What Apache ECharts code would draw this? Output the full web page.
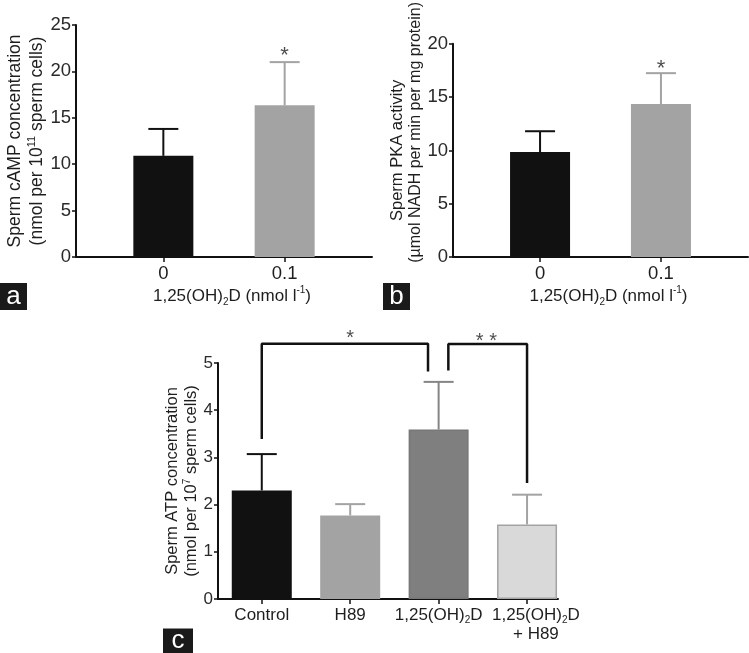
<!DOCTYPE html>
<html><head><meta charset="utf-8">
<script src="https://cdn.jsdelivr.net/npm/echarts@6/dist/echarts.min.js"></script>
<style>html,body{margin:0;padding:0;background:#fff}#c{width:749px;height:653px}</style>
</head><body><div id="c"></div>
<script>
// ---- Panel a ----
const aCategories = ['0', '0.1'];
const aMeans = [10.9, 16.35];
const aErrors = [2.9, 4.65];
const aYTicks = [0, 25, 5];
const aStarPos = [[1, 22.1]];
const aStarText = ['*'];
// ---- Panel b ----
const bCategories = ['0', '0.1'];
const bMeans = [9.85, 14.35];
const bErrors = [1.95, 2.9];
const bYTicks = [0, 20, 5];
const bStarPos = [[1, 18.0]];
const bStarText = ['*'];
// ---- Panel c ----
const cCategories = ['Control', 'H89', '1,25(OH)2D', '1,25(OH)2D\n+ H89'];
const cMeans = [2.30, 1.77, 3.59, 1.58];
const cErrors = [0.77, 0.24, 1.01, 0.63];
const cYTicks = [0, 5, 1];
const cBracket1 = [[0, 3.39], [0, 5.41], [1.88, 5.41], [1.88, 4.82]];
const cBracket2 = [[2.11, 4.84], [2.11, 5.40], [3, 5.40], [3, 2.46]];
const cStarPos = [[1, 5.6], [2.54, 5.55]];
const cStarText = ['*', '* *'];

// ---- styles / layout ----
const FONT = 'Liberation Sans, Arial, sans-serif';
const TXT = '#1e1e1e';
const abFill = ['#111111', '#a3a3a3'];
const abErr = ['#111111', '#a3a3a3'];
const cFill = ['#111111', '#a3a3a3', '#7f7f7f', '#d9d9d9'];
const cBorder = ['#111111', '#a3a3a3', '#777777', '#a3a3a3'];
const cErr = ['#111111', '#a3a3a3', '#858585', '#a3a3a3'];
const cLabelShift = [0, 0, 0, 0.1];

function richLine(line, style) {
  const k = line.indexOf('(OH)2D');
  if (k < 0) return '{' + style + '|' + line + '}';
  const before = line.slice(0, k) + '(OH)';
  const after = 'D' + line.slice(k + 6);
  return '{' + style + '|' + before + '}{sub|2}{t|' + after + '}';
}
function richLabel(s) {
  return s.split('\n').map(l => richLine(l, 't')).join('\n');
}

const richBase = (fs, lh) => ({
  t: {fontSize: fs, lineHeight: lh, color: TXT, fontFamily: FONT},
  tn: {fontSize: fs, lineHeight: lh, color: TXT, fontFamily: FONT, padding: [0, 0, 0, 16]},
  t2: {fontSize: 16, lineHeight: lh, color: TXT, fontFamily: FONT, padding: [0, 0, 0, 36]},
  sub: {fontSize: Math.round(fs * 0.6), lineHeight: 3, verticalAlign: 'bottom', color: TXT, fontFamily: FONT},
  sup: {fontSize: Math.round(fs * 0.6), lineHeight: 12, verticalAlign: 'top', color: TXT, fontFamily: FONT}
});

function xAxisOf(idx, cats, min, max, fs, name, nameGap, nfs, shift) {
  const vals = cats.map((c, i) => i);
  const labelVals = cats.map((c, i) => i + (shift ? shift[i] : 0));
  return {
    gridIndex: idx, type: 'value', min: min, max: max,
    splitLine: {show: false},
    axisLine: {show: true, onZero: false, lineStyle: {color: '#111', width: 2}},
    axisTick: {show: true, customValues: vals, length: 5, lineStyle: {color: '#111', width: 1.5}},
    axisLabel: {show: true, customValues: labelVals, margin: 7, color: TXT, fontSize: fs, fontFamily: FONT,
      showMinLabel: true, showMaxLabel: true, hideOverlap: false,
      formatter: v => richLabel(cats[Math.round(v)]), rich: richBase(fs, Math.round(fs * 1.1))},
    name: name, nameLocation: 'middle', nameGap: nameGap,
    nameTextStyle: {rich: richBase(nfs || fs, 22)}
  };
}
function yAxisOf(idx, ticks, fs, name, nameGap, nfs, nlh) {
  return {
    gridIndex: idx, type: 'value', min: ticks[0], max: ticks[1], interval: ticks[2],
    splitLine: {show: false},
    axisLine: {show: true, onZero: false, lineStyle: {color: '#111', width: 2}},
    axisTick: {show: true, length: 4, lineStyle: {color: '#111', width: 1.5}},
    axisLabel: {margin: 5, color: '#2a2a2a', fontSize: fs, fontFamily: FONT},
    name: name, nameLocation: 'middle', nameRotate: 90, nameGap: nameGap,
    nameTextStyle: {rich: richBase(nfs, nlh)}
  };
}
function barSeries(idx, means, fills, borders, width) {
  return {
    type: 'bar', xAxisIndex: idx, yAxisIndex: idx, barWidth: width,
    data: means.map((m, k) => ({value: [k, m], itemStyle: {color: fills[k], borderColor: borders ? borders[k] : fills[k], borderWidth: borders ? 1.5 : 0}})),
    z: 2, silent: true
  };
}
function errSeries(idx, means, errs, colors) {
  return {
    type: 'custom', xAxisIndex: idx, yAxisIndex: idx, z: 3, silent: true,
    data: means.map((m, k) => [k, m, m + errs[k]]),
    renderItem(params, api) {
      const x = api.value(0);
      const p0 = api.coord([x, api.value(1)]);
      const p1 = api.coord([x, api.value(2)]);
      const hw = 15;
      const col = colors[params.dataIndex];
      return {type: 'group', children: [
        {type: 'line', shape: {x1: p0[0], y1: p0[1], x2: p1[0], y2: p1[1]}, style: {stroke: col, lineWidth: 2}},
        {type: 'line', shape: {x1: p1[0] - hw, y1: p1[1], x2: p1[0] + hw, y2: p1[1]}, style: {stroke: col, lineWidth: 2}}
      ]};
    }
  };
}
function starSeries(idx, pos, texts, fs) {
  return {
    type: 'scatter', xAxisIndex: idx, yAxisIndex: idx, clip: false, silent: true, z: 5,
    symbolSize: 1, itemStyle: {color: 'rgba(0,0,0,0)'},
    data: pos.map((p, k) => ({value: p, name: texts[k]})),
    label: {show: true, position: 'inside', formatter: p => p.name, fontSize: fs, color: TXT, fontFamily: FONT, offset: [0, Math.round(fs * 0.18)]}
  };
}
function bracketSeries(idx, pts) {
  return {
    type: 'line', xAxisIndex: idx, yAxisIndex: idx, clip: false, silent: true, z: 4,
    data: pts, symbol: 'none', lineStyle: {color: '#111', width: 2.5}
  };
}
function letterBox(x, y, w, h, ch) {
  return {type: 'group', left: x, top: y, children: [
    {type: 'rect', shape: {x: 0, y: 0, width: w, height: h}, style: {fill: '#1a1a1a'}},
    {type: 'text', x: w / 2, y: h / 2, style: {text: ch, fill: '#fff', fontSize: 26, fontFamily: FONT, align: 'center', verticalAlign: 'middle'}}
  ]};
}

const xNameAB = '{tn|1,25(OH)}{sub|2}{t|D (nmol l}{sup|-1}{t|)}';

const chart = echarts.init(document.getElementById('c'), null, {renderer: 'canvas'});
chart.setOption({
  backgroundColor: '#fff',
  animation: false,
  grid: [
    {left: 76, right: 377, top: 25, bottom: 396},
    {left: 453, right: 1, top: 27, bottom: 396},
    {left: 218, right: 191, top: 363, bottom: 54}
  ],
  xAxis: [
    xAxisOf(0, aCategories, -0.72, 1.72, 18.5, xNameAB, 28, 17),
    xAxisOf(1, bCategories, -0.72, 1.72, 18.5, xNameAB, 28, 17),
    xAxisOf(2, cCategories, -0.495, 3.35, 17, '', 0, 17, cLabelShift)
  ],
  yAxis: [
    yAxisOf(0, aYTicks, 18.5, '{t|Sperm cAMP concentration}\n{t|(nmol per 10}{sup|11}{t| sperm cells)}', 23, 17.5, 22),
    yAxisOf(1, bYTicks, 18.5, '{t|Sperm PKA activity}\n{t2|(µmol NADH per min per mg protein)}', 18, 16.5, 18.5),
    yAxisOf(2, cYTicks, 17, '{t|Sperm ATP concentration}\n{t|(nmol per 10}{sup|7}{t| sperm cells)}', 17, 16.5, 18.3)
  ],
  series: [
    barSeries(0, aMeans, abFill, null, 60),
    errSeries(0, aMeans, aErrors, abErr),
    starSeries(0, aStarPos, aStarText, 22),
    barSeries(1, bMeans, abFill, null, 60),
    errSeries(1, bMeans, bErrors, abErr),
    starSeries(1, bStarPos, bStarText, 22),
    barSeries(2, cMeans, cFill, cBorder, 60),
    errSeries(2, cMeans, cErrors, cErr),
    bracketSeries(2, cBracket1),
    bracketSeries(2, cBracket2),
    starSeries(2, cStarPos, cStarText, 20)
  ],
  graphic: [
    letterBox(0, 283, 27, 27, 'a'),
    letterBox(383, 283, 27, 27, 'b'),
    letterBox(163, 628, 30, 25, 'c')
  ]
});
</script></body></html>
